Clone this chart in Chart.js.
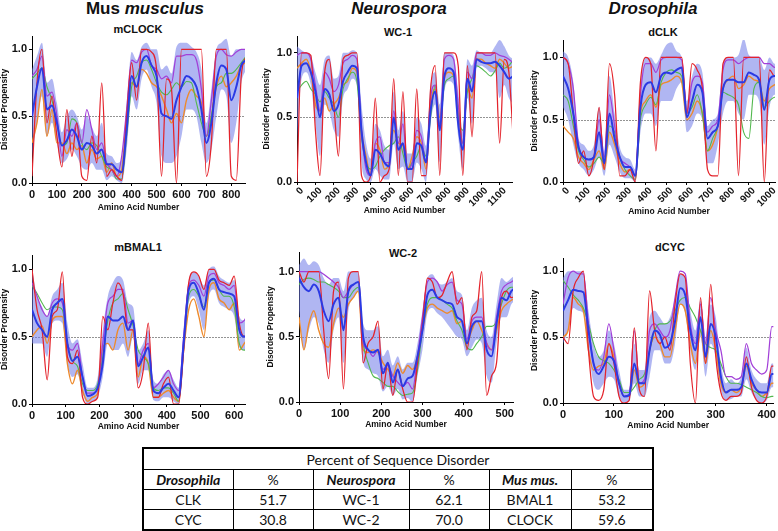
<!DOCTYPE html>
<html>
<head>
<meta charset="utf-8">
<script src="https://cdn.jsdelivr.net/npm/chart.js@4.4.1/dist/chart.umd.min.js"></script>
<style>
body { margin: 0; background: #fff; }
#fig { position: relative; width: 778px; height: 531px; overflow: hidden; background: #fff; font-family: "Liberation Sans", Arial, sans-serif; color: #111; }
canvas { position: absolute; }
.hdr { position: absolute; top: 0; font-weight: bold; font-size: 17px; line-height: 17px; white-space: nowrap; transform: translateX(-50%); }
.ttl { position: absolute; font-weight: bold; font-size: 11px; line-height: 13px; white-space: nowrap; transform: translateX(-50%); }
#tbl { position: absolute; left: 142px; top: 447px; width: 510px; border-collapse: collapse; border: 2px solid #000; font-family: Lato, "Open Sans", sans-serif; font-size: 14px; color: #111; table-layout: fixed; }
#tbl td { border: 1px solid #000; text-align: center; padding: 0; height: 19px; line-height: 19px; }
#tbl td.g { font-weight: bold; font-style: italic; }
</style>
</head>
<body>
<div id="fig">
  <div class="hdr" style="left:145px">Mus <i>musculus</i></div>
  <div class="hdr" style="left:399px"><i>Neurospora</i></div>
  <div class="hdr" style="left:653px"><i>Drosophila</i></div>

  <div class="ttl" style="left:138px;top:23px">mCLOCK</div>
  <div class="ttl" style="left:398px;top:26px">WC-1</div>
  <div class="ttl" style="left:663px;top:26px">dCLK</div>
  <div class="ttl" style="left:138px;top:241px">mBMAL1</div>
  <div class="ttl" style="left:403px;top:247px">WC-2</div>
  <div class="ttl" style="left:670px;top:241px">dCYC</div>

  <canvas id="c1"></canvas>
  <canvas id="c2"></canvas>
  <canvas id="c3"></canvas>
  <canvas id="c4"></canvas>
  <canvas id="c5"></canvas>
  <canvas id="c6"></canvas>

  <table id="tbl"></table>
</div>
<script>
// shared
const yTickValues = [0, 0.5, 1.0];
const cutoff = 0.5;

// mCLOCK, one value every 20 residues
const clockStep = 20;
const clockTicks = [0, 100, 200, 300, 400, 500, 600, 700, 800];
const clockBlue = [0.50,0.72,0.86,0.55,0.58,0.45,0.28,0.32,0.40,0.35,0.25,0.30,0.28,0.22,0.25,0.14,0.14,0.10,0.08,0.40,0.80,0.72,0.90,0.95,0.88,0.80,0.52,0.50,0.48,0.62,0.72,0.80,0.78,0.72,0.55,0.30,0.45,0.75,0.88,0.85,0.62,0.72,0.88,0.92];
const clockRed = [0.05,0.75,1.0,0.45,0.65,0.35,0.12,0.55,0.20,0.45,0.05,0.02,0.35,0.15,0.75,0.05,0.10,0.05,0.02,0.50,0.90,0.62,1.0,1.0,0.98,0.85,0.05,0.78,0.70,0.0,1.0,1.0,1.0,1.0,1.0,0.05,0.30,1.0,1.0,1.0,0.05,0.02,0.80,0.95];
const clockOrange = [0.30,0.45,0.70,0.35,0.55,0.30,0.30,0.22,0.30,0.25,0.28,0.15,0.25,0.18,0.20,0.08,0.15,0.05,0.10,0.50,0.75,0.72,0.85,0.82,0.75,0.72,0.65,0.55,0.45,0.52,0.45,0.62,0.70,0.65,0.60,0.35,0.50,0.72,0.80,0.72,0.75,0.80,0.88,0.90];
const clockGreen = [0.78,0.82,0.86,0.72,0.62,0.45,0.28,0.30,0.48,0.45,0.30,0.25,0.30,0.28,0.20,0.12,0.10,0.03,0.03,0.35,0.72,0.80,0.90,0.92,0.85,0.75,0.68,0.66,0.70,0.75,0.72,0.76,0.75,0.60,0.45,0.35,0.50,0.72,0.75,0.82,0.82,0.85,0.90,0.95];
const clockPurple = [0.80,0.85,0.95,0.65,0.68,0.50,0.20,0.40,0.35,0.45,0.30,0.55,0.40,0.25,0.30,0.15,0.10,0.05,0.20,0.55,0.92,0.90,0.98,1.0,0.88,0.85,0.78,0.80,0.75,0.95,0.95,0.96,0.96,0.92,0.70,0.35,0.62,0.95,1.0,0.96,0.95,0.98,1.0,1.0];
const clockHi = [0.85,0.95,1.05,0.75,0.78,0.60,0.38,0.50,0.55,0.50,0.40,0.50,0.42,0.35,0.45,0.22,0.20,0.15,0.18,0.60,0.98,0.92,1.02,1.05,1.0,1.0,0.85,0.88,0.82,1.02,1.05,1.05,1.02,0.98,0.85,0.45,0.70,1.0,1.05,1.08,0.95,1.0,1.0,1.0];
const clockLo = [0.20,0.45,0.65,0.35,0.45,0.30,0.15,0.18,0.25,0.20,0.12,0.10,0.15,0.10,0.10,0.02,0.05,0.02,0.0,0.25,0.65,0.55,0.78,0.85,0.72,0.60,0.20,0.15,0.15,0.20,0.35,0.55,0.55,0.50,0.30,0.15,0.25,0.50,0.70,0.65,0.30,0.45,0.75,0.85];

// WC-1, every 25 residues
const wc1Step = 25;
const wc1Ticks = [0, 100, 200, 300, 400, 500, 600, 700, 800, 900, 1000, 1100];
const wc1Blue = [0.65,0.90,0.92,0.85,0.70,0.50,0.72,0.68,0.55,0.60,0.78,0.85,0.90,0.88,0.40,0.15,0.05,0.25,0.22,0.15,0.12,0.50,0.25,0.30,0.10,0.10,0.30,0.28,0.15,0.55,0.70,0.40,0.82,0.88,0.85,0.45,0.25,0.80,0.70,0.95,0.93,0.92,0.92,0.93,0.90,0.85,0.80,0.82];
const wc1Red = [0.0,1.0,1.0,0.98,0.40,0.05,0.85,0.95,0.60,0.20,0.95,0.98,1.0,1.0,0.05,0.0,0.05,0.65,0.0,0.05,0.10,0.80,0.05,0.70,0.0,0.0,0.72,0.05,0.05,0.72,0.90,0.05,1.0,1.0,1.0,0.90,0.05,0.90,0.35,1.0,1.0,1.0,1.0,1.0,0.30,0.95,0.85,0.30];
const wc1Orange = [0.88,0.92,0.95,0.85,0.60,0.55,0.65,0.55,0.60,0.65,0.75,0.78,0.88,0.85,0.40,0.20,0.05,0.30,0.25,0.10,0.15,0.40,0.30,0.28,0.10,0.20,0.35,0.30,0.10,0.60,0.72,0.50,0.80,0.85,0.82,0.55,0.30,0.72,0.65,0.95,0.95,0.92,0.90,0.88,0.95,0.92,0.88,0.90];
const wc1Green = [0.70,0.75,0.78,0.72,0.68,0.62,0.70,0.65,0.60,0.50,0.72,0.80,0.85,0.78,0.35,0.15,0.10,0.12,0.20,0.25,0.28,0.30,0.35,0.22,0.10,0.15,0.20,0.28,0.20,0.50,0.75,0.45,0.75,0.80,0.82,0.50,0.40,0.70,0.80,0.90,0.88,0.85,0.82,0.86,0.92,0.88,0.90,0.95];
const wc1Purple = [0.98,1.0,1.0,0.95,0.75,0.55,0.85,0.80,0.70,0.75,0.92,0.95,0.98,0.95,0.40,0.10,0.05,0.30,0.35,0.15,0.15,0.55,0.30,0.45,0.10,0.15,0.40,0.35,0.15,0.65,0.75,0.45,0.95,0.98,0.95,0.60,0.30,0.85,0.80,1.0,1.0,0.98,0.98,1.0,0.98,0.97,0.95,0.92];
const wc1Hi = [1.05,1.02,1.0,0.98,0.85,0.75,0.95,0.98,0.80,0.82,1.0,1.0,1.02,1.0,0.60,0.30,0.18,0.45,0.40,0.28,0.25,0.70,0.40,0.55,0.22,0.22,0.50,0.45,0.28,0.75,0.85,0.60,1.0,1.0,0.98,0.70,0.40,0.95,0.90,1.02,1.0,1.0,1.0,1.05,1.10,1.05,0.98,0.95];
const wc1Lo = [0.30,0.80,0.85,0.75,0.45,0.20,0.60,0.55,0.40,0.35,0.65,0.72,0.80,0.75,0.15,0.02,0.0,0.10,0.05,0.02,0.02,0.30,0.10,0.12,0.0,0.0,0.15,0.10,0.0,0.45,0.60,0.15,0.70,0.78,0.75,0.35,0.10,0.65,0.45,0.88,0.90,0.88,0.85,0.85,0.65,0.75,0.65,0.60];

// dCLK, every 25 residues
const dclkStep = 25;
const dclkTicks = [0, 100, 200, 300, 400, 500, 600, 700, 800, 900, 1000];
const dclkBlue = [0.85,0.75,0.55,0.28,0.20,0.18,0.20,0.40,0.15,0.55,0.35,0.20,0.12,0.12,0.05,0.60,0.78,0.80,0.72,0.85,0.88,0.87,0.90,0.92,0.52,0.65,0.78,0.72,0.35,0.40,0.45,0.75,0.82,0.82,0.80,0.80,0.88,0.86,0.82,0.58,0.82,0.85,0.85];
const dclkRed = [1.0,0.95,0.55,0.15,0.25,0.05,0.20,0.60,0.10,0.95,0.70,0.05,0.05,0.10,0.0,0.80,1.0,0.95,0.25,1.0,1.0,1.0,1.0,1.0,0.55,0.95,0.90,0.75,0.10,0.05,0.05,0.95,1.0,1.0,0.05,1.0,1.0,1.0,1.0,0.0,0.90,0.85,0.85];
const dclkOrange = [0.45,0.40,0.35,0.20,0.15,0.10,0.18,0.25,0.10,0.40,0.30,0.15,0.08,0.10,0.05,0.55,0.65,0.70,0.60,0.78,0.80,0.82,0.85,0.80,0.50,0.55,0.65,0.55,0.25,0.30,0.45,0.75,0.82,0.85,0.75,0.78,0.85,0.82,0.80,0.65,0.75,0.78,0.80];
const dclkGreen = [0.70,0.65,0.45,0.25,0.18,0.12,0.15,0.20,0.15,0.45,0.40,0.20,0.10,0.05,0.02,0.50,0.62,0.68,0.62,0.80,0.88,0.90,0.88,0.85,0.55,0.60,0.70,0.55,0.25,0.35,0.45,0.72,0.70,0.68,0.62,0.40,0.35,0.75,0.80,0.60,0.65,0.68,0.68];
const dclkPurple = [1.0,0.95,0.75,0.30,0.20,0.18,0.20,0.50,0.20,0.70,0.45,0.20,0.15,0.12,0.05,0.70,0.95,0.95,0.88,0.98,1.0,1.0,1.0,0.98,0.55,0.80,0.85,0.80,0.40,0.45,0.50,0.90,0.98,0.98,0.95,0.98,1.0,1.0,1.0,0.95,0.95,0.92,0.92];
const dclkHi = [1.05,1.0,0.80,0.35,0.30,0.25,0.30,0.60,0.25,0.85,0.55,0.28,0.20,0.18,0.10,0.80,1.0,1.0,0.95,1.02,1.10,1.12,1.05,1.0,0.65,0.85,0.95,0.88,0.45,0.50,0.55,0.95,1.0,1.0,1.02,1.15,1.02,1.0,1.0,0.90,1.0,0.95,0.95];
const dclkLo = [0.60,0.50,0.30,0.15,0.10,0.05,0.10,0.20,0.05,0.30,0.20,0.08,0.03,0.03,0.0,0.40,0.55,0.55,0.45,0.65,0.65,0.65,0.75,0.80,0.40,0.45,0.55,0.50,0.15,0.15,0.30,0.55,0.65,0.65,0.55,0.50,0.70,0.70,0.65,0.30,0.60,0.70,0.70];

// mBMAL1, every 15 residues
const bmalStep = 15;
const bmalTicks = [0, 100, 200, 300, 400, 500, 600];
const bmalBlue = [0.70,0.60,0.55,0.50,0.70,0.75,0.78,0.45,0.32,0.35,0.20,0.06,0.07,0.12,0.30,0.65,0.62,0.62,0.65,0.55,0.62,0.28,0.35,0.42,0.10,0.08,0.12,0.15,0.10,0.05,0.45,0.85,0.90,0.82,0.70,0.90,0.93,0.85,0.83,0.82,0.80,0.55,0.50,0.55];
const bmalRed = [1.0,0.70,0.55,0.18,0.65,0.70,0.98,0.35,0.30,0.40,0.05,0.0,0.02,0.05,0.65,0.55,0.75,0.90,0.82,0.55,0.55,0.12,0.25,0.60,0.05,0.05,0.15,0.20,0.0,0.0,0.40,0.90,0.98,0.95,0.85,1.0,1.0,0.92,0.90,0.88,0.95,0.60,0.50,0.60];
const bmalOrange = [0.50,0.55,0.58,0.45,0.62,0.65,0.65,0.30,0.15,0.25,0.10,0.02,0.05,0.08,0.42,0.45,0.40,0.55,0.60,0.40,0.55,0.20,0.35,0.30,0.05,0.05,0.08,0.10,0.05,0.02,0.40,0.70,0.78,0.65,0.50,0.85,0.90,0.78,0.75,0.70,0.75,0.40,0.45,0.50];
const bmalGreen = [0.88,0.82,0.75,0.70,0.72,0.72,0.70,0.45,0.32,0.28,0.15,0.10,0.10,0.15,0.35,0.62,0.75,0.78,0.82,0.70,0.58,0.40,0.35,0.30,0.12,0.10,0.12,0.12,0.08,0.02,0.42,0.80,0.85,0.80,0.72,0.90,0.92,0.85,0.80,0.80,0.72,0.45,0.40,0.40];
const bmalPurple = [0.90,0.80,0.70,0.65,0.75,0.78,0.75,0.45,0.40,0.45,0.20,0.08,0.08,0.12,0.45,0.75,0.80,0.85,0.85,0.60,0.62,0.30,0.40,0.45,0.12,0.15,0.20,0.25,0.15,0.10,0.50,0.88,0.92,0.88,0.80,0.95,0.97,0.90,0.88,0.85,0.88,0.60,0.62,0.70];
const bmalHi = [1.0,0.80,0.72,0.65,0.80,0.85,0.90,0.60,0.45,0.48,0.30,0.12,0.12,0.20,0.55,0.80,0.90,0.95,0.92,0.75,0.72,0.40,0.45,0.55,0.18,0.15,0.22,0.25,0.18,0.12,0.55,0.92,0.98,0.95,0.88,1.0,1.02,0.95,0.92,0.90,0.92,0.65,0.62,0.65];
const bmalLo = [0.45,0.45,0.45,0.35,0.60,0.62,0.60,0.30,0.20,0.22,0.08,0.0,0.02,0.05,0.20,0.45,0.40,0.40,0.45,0.35,0.50,0.15,0.25,0.25,0.03,0.02,0.05,0.05,0.02,0.0,0.35,0.75,0.80,0.70,0.55,0.80,0.85,0.75,0.72,0.70,0.65,0.42,0.40,0.45];

// WC-2, every 12 residues
const wc2Step = 12;
const wc2Ticks = [0, 100, 200, 300, 400, 500];
const wc2Blue = [0.95,0.88,0.85,0.90,0.85,0.70,0.62,0.75,0.80,0.55,0.85,0.90,0.92,0.50,0.40,0.38,0.40,0.22,0.30,0.15,0.25,0.12,0.18,0.20,0.35,0.55,0.82,0.86,0.80,0.78,0.76,0.75,0.65,0.62,0.45,0.58,0.62,0.62,0.40,0.35,0.60,0.80,0.78,0.85,0.88];
const wc2Red = [1.0,0.92,1.0,1.0,1.0,0.55,0.18,0.85,0.92,0.10,0.95,1.0,1.0,0.30,0.45,0.50,0.62,0.10,0.30,0.05,0.25,0.10,0.0,0.0,0.30,0.60,0.95,0.92,0.80,0.82,0.92,1.0,0.75,0.80,0.40,0.65,0.70,1.0,0.05,0.20,0.30,0.80,0.85,0.80,0.82];
const wc2Orange = [0.65,0.40,0.60,0.70,0.55,0.45,0.42,0.60,0.72,0.65,0.75,0.80,0.85,0.40,0.38,0.40,0.38,0.30,0.25,0.20,0.30,0.22,0.28,0.25,0.35,0.55,0.72,0.75,0.72,0.70,0.68,0.70,0.60,0.62,0.45,0.55,0.62,0.55,0.45,0.40,0.55,0.70,0.75,0.78,0.80];
const wc2Green = [0.90,0.94,0.95,0.94,0.92,0.92,0.90,0.88,0.85,0.80,0.80,0.85,0.88,0.45,0.30,0.20,0.18,0.15,0.12,0.12,0.08,0.05,0.06,0.07,0.25,0.55,0.75,0.80,0.80,0.78,0.75,0.72,0.62,0.55,0.42,0.40,0.45,0.50,0.58,0.58,0.62,0.75,0.85,0.88,0.88];
const wc2Purple = [1.0,1.0,1.0,1.0,1.0,0.98,0.95,0.92,0.88,0.80,0.85,0.90,0.92,0.45,0.40,0.35,0.40,0.25,0.28,0.20,0.15,0.12,0.15,0.10,0.35,0.65,0.92,0.95,0.92,0.85,0.90,0.92,0.78,0.75,0.48,0.62,0.65,0.65,0.45,0.40,0.65,0.85,0.90,0.92,0.95];
const wc2Hi = [1.05,1.10,1.05,1.08,1.05,0.95,0.90,0.95,0.95,0.85,1.0,1.0,1.0,0.60,0.55,0.55,0.58,0.35,0.40,0.28,0.35,0.25,0.30,0.30,0.45,0.70,0.95,0.98,0.92,0.90,0.92,0.95,0.85,0.82,0.55,0.72,0.78,0.80,0.55,0.50,0.75,0.95,0.92,0.95,0.98];
const wc2Lo = [0.70,0.40,0.55,0.65,0.60,0.40,0.30,0.55,0.65,0.30,0.70,0.80,0.85,0.30,0.25,0.22,0.20,0.08,0.12,0.05,0.10,0.02,0.03,0.0,0.20,0.40,0.68,0.72,0.68,0.65,0.60,0.55,0.50,0.48,0.35,0.42,0.48,0.45,0.20,0.15,0.45,0.65,0.65,0.75,0.78];

// dCYC, every 10 residues
const dcycStep = 10;
const dcycTicks = [0, 100, 200, 300, 400];
const dcycBlue = [0.70,0.78,0.86,0.85,0.84,0.55,0.30,0.22,0.28,0.35,0.32,0.15,0.05,0.06,0.30,0.15,0.15,0.40,0.55,0.52,0.42,0.45,0.62,0.87,0.82,0.55,0.40,0.65,0.35,0.60,0.50,0.20,0.08,0.10,0.10,0.12,0.30,0.18,0.10,0.08,0.08,0.22,0.22];
const dcycRed = [0.50,0.45,0.85,0.95,1.0,0.40,0.05,0.02,0.10,0.45,0.30,0.05,0.0,0.02,0.57,0.10,0.05,0.85,0.55,0.45,0.50,0.40,0.75,0.98,0.95,0.30,0.0,0.80,0.30,0.90,0.35,0.08,0.02,0.05,0.05,0.08,0.35,0.12,0.02,0.0,0.05,0.28,0.28];
const dcycOrange = [0.50,0.55,0.80,0.75,0.70,0.40,0.25,0.28,0.30,0.45,0.35,0.15,0.05,0.05,0.25,0.12,0.15,0.40,0.50,0.45,0.35,0.35,0.55,0.75,0.70,0.45,0.30,0.55,0.30,0.55,0.40,0.15,0.08,0.10,0.08,0.12,0.28,0.15,0.10,0.05,0.08,0.15,0.15];
const dcycGreen = [0.93,0.88,0.82,0.78,0.72,0.60,0.45,0.35,0.32,0.30,0.25,0.18,0.08,0.08,0.12,0.18,0.22,0.40,0.55,0.60,0.60,0.62,0.70,0.78,0.80,0.72,0.65,0.55,0.45,0.42,0.40,0.30,0.20,0.15,0.15,0.14,0.12,0.10,0.08,0.05,0.04,0.05,0.05];
const dcycPurple = [0.75,0.95,1.0,0.98,0.98,0.60,0.30,0.25,0.35,0.60,0.40,0.15,0.05,0.06,0.55,0.15,0.18,0.55,0.60,0.55,0.50,0.55,0.80,1.0,0.98,0.60,0.45,0.75,0.45,0.80,0.55,0.40,0.20,0.20,0.18,0.20,0.45,0.30,0.25,0.22,0.25,0.58,0.58];
const dcycHi = [0.95,1.0,1.0,1.0,1.0,0.70,0.45,0.35,0.40,0.55,0.45,0.25,0.10,0.10,0.45,0.25,0.25,0.65,0.70,0.65,0.60,0.65,0.80,0.98,0.95,0.70,0.55,0.78,0.50,0.75,0.65,0.30,0.15,0.18,0.15,0.20,0.42,0.25,0.18,0.15,0.15,0.30,0.30];
const dcycLo = [0.45,0.55,0.72,0.70,0.68,0.40,0.15,0.10,0.15,0.20,0.18,0.05,0.0,0.02,0.15,0.05,0.05,0.20,0.40,0.40,0.30,0.30,0.45,0.75,0.68,0.40,0.25,0.50,0.20,0.45,0.35,0.10,0.02,0.03,0.05,0.05,0.18,0.08,0.02,0.0,0.02,0.12,0.12];

// table
const tableGenera = ['Drosophila', 'Neurospora', 'Mus mus.'];
const tableProteins = [['CLK', 'CYC'], ['WC-1', 'WC-2'], ['BMAL1', 'CLOCK']];
const tablePercents = [[51.7, 30.8], [62.1, 70.0], [53.2, 59.6]];

Chart.defaults.font.family = '"Liberation Sans", Arial, sans-serif';
Chart.defaults.color = '#111';

const cutLine = {
  id: 'cutLine',
  beforeDatasetsDraw(chart) {
    const a = chart.chartArea;
    const y = chart.scales.y.getPixelForValue(cutoff);
    const ctx = chart.ctx;
    ctx.save();
    ctx.strokeStyle = 'rgba(120,120,120,0.8)';
    ctx.lineWidth = 1;
    ctx.setLineDash([2, 1]);
    ctx.beginPath();
    ctx.moveTo(a.left, Math.round(y) + 0.5);
    ctx.lineTo(a.right, Math.round(y) + 0.5);
    ctx.stroke();
    ctx.restore();
  }
};

// box = canvas [left, top, width, height], area = plot [left, top, right, bottom]
const panels = [
  {id: 'c1', box: [0, 20, 252, 193], area: [32, 36, 245, 183], xMax: 855, yMax: 1.10, rot: 0, step: clockStep, ticks: clockTicks,
   s: [clockBlue, clockRed, clockPurple, clockGreen, clockOrange, clockHi, clockLo]},
  {id: 'c2', box: [262, 20, 255, 196], area: [297, 36, 512, 182], xMax: 1167, yMax: 1.13, rot: 45, step: wc1Step, ticks: wc1Ticks,
   s: [wc1Blue, wc1Red, wc1Purple, wc1Green, wc1Orange, wc1Hi, wc1Lo]},
  {id: 'c3', box: [530, 20, 248, 197], area: [563, 40, 776, 182], xMax: 1027, yMax: 1.14, rot: 45, step: dclkStep, ticks: dclkTicks,
   s: [dclkBlue, dclkRed, dclkPurple, dclkGreen, dclkOrange, dclkHi, dclkLo]},
  {id: 'c4', box: [0, 240, 252, 192], area: [32, 255, 245, 404], xMax: 632, yMax: 1.106, rot: 0, step: bmalStep, ticks: bmalTicks,
   s: [bmalBlue, bmalRed, bmalPurple, bmalGreen, bmalOrange, bmalHi, bmalLo]},
  {id: 'c5', box: [266, 240, 252, 190], area: [299, 252, 513, 402], xMax: 520, yMax: 1.15, rot: 0, step: wc2Step, ticks: wc2Ticks,
   s: [wc2Blue, wc2Red, wc2Purple, wc2Green, wc2Orange, wc2Hi, wc2Lo]},
  {id: 'c6', box: [530, 240, 248, 191], area: [563, 258, 775, 403], xMax: 413, yMax: 1.10, rot: 0, step: dcycStep, ticks: dcycTicks,
   s: [dcycBlue, dcycRed, dcycPurple, dcycGreen, dcycOrange, dcycHi, dcycLo]}
];

function makeChart(p) {
  const cv = document.getElementById(p.id);
  const [l, t, w, h] = p.box;
  const [L, T, R, B] = p.area;
  cv.style.left = l + 'px';
  cv.style.top = t + 'px';
  cv.width = w;
  cv.height = h;

  const pts = arr => arr.map((v, i) => ({x: i * p.step, y: v}));
  const line = (arr, color, width) => ({
    data: pts(arr), borderColor: color, borderWidth: width, pointRadius: 0,
    fill: false, cubicInterpolationMode: 'monotone'
  });
  const [blue, red, purple, green, orange, hi, lo] = p.s;

  new Chart(cv, {
    type: 'line',
    data: {
      datasets: [
        line(blue, '#2b3ae4', 2.0),
        line(red, '#e4232b', 1.25),
        line(purple, '#a23fd8', 1.25),
        line(green, '#52b84e', 1.1),
        line(orange, '#ee8a2c', 1.4),
        {data: pts(hi), borderColor: 'rgba(0,0,0,0)', borderWidth: 0, pointRadius: 0,
         fill: '+1', backgroundColor: 'rgba(112,122,232,0.55)', cubicInterpolationMode: 'monotone'},
        {data: pts(lo), borderColor: 'rgba(0,0,0,0)', borderWidth: 0, pointRadius: 0,
         fill: false, cubicInterpolationMode: 'monotone'}
      ]
    },
    options: {
      responsive: false,
      animation: false,
      devicePixelRatio: 1,
      layout: {padding: {top: T - t, right: l + w - R, left: 0, bottom: 0}},
      plugins: {legend: {display: false}, tooltip: {enabled: false}, title: {display: false}},
      scales: {
        x: {
          type: 'linear', min: 0, max: p.xMax,
          afterBuildTicks: s => { s.ticks = p.ticks.map(v => ({value: v})); },
          afterFit: s => { s.height = t + h - B; },
          grid: {drawOnChartArea: false, drawTicks: true, tickLength: 3, color: '#000'},
          border: {display: true, color: '#000', width: 1},
          ticks: {font: {size: p.rot ? 10 : 11, weight: 'bold'}, color: '#111',
                  minRotation: p.rot, maxRotation: p.rot, autoSkip: false,
                  padding: p.rot ? 0 : 2, labelOffset: p.rot ? 5 : 0,
                  callback: v => String(v)},
          title: {display: true, text: 'Amino Acid Number', font: {size: 8.5, weight: 'bold'}, color: '#111', padding: 0}
        },
        y: {
          min: 0, max: p.yMax,
          afterBuildTicks: s => { s.ticks = yTickValues.map(v => ({value: v})); },
          afterFit: s => { s.width = L - l; },
          grid: {drawOnChartArea: false, drawTicks: true, tickLength: 3, color: '#000'},
          border: {display: true, color: '#000', width: 1},
          ticks: {font: {size: 11, weight: 'bold'}, color: '#111', padding: 2, callback: v => v.toFixed(1)},
          title: {display: true, text: 'Disorder Propensity', font: {size: 8.5, weight: 'bold'}, color: '#111', padding: 0}
        }
      }
    },
    plugins: [cutLine]
  });
}

panels.forEach(makeChart);

// summary table built from the arrays above
const tbl = document.getElementById('tbl');
const colW = [90, 80, 96, 80, 82, 82];
let html = '<colgroup>' + colW.map(c => '<col style="width:' + c + 'px">').join('') + '</colgroup>';
html += '<tr><td colspan="6" style="height:20px">Percent of Sequence Disorder</td></tr>';
html += '<tr>' + tableGenera.map(g => '<td class="g">' + g + '</td><td>%</td>').join('') + '</tr>';
for (let r = 0; r < 2; r++) {
  html += '<tr>' + tableGenera.map((g, c) => '<td>' + tableProteins[c][r] + '</td><td>' + tablePercents[c][r].toFixed(1) + '</td>').join('') + '</tr>';
}
tbl.innerHTML = html;
</script>
</body>
</html>
